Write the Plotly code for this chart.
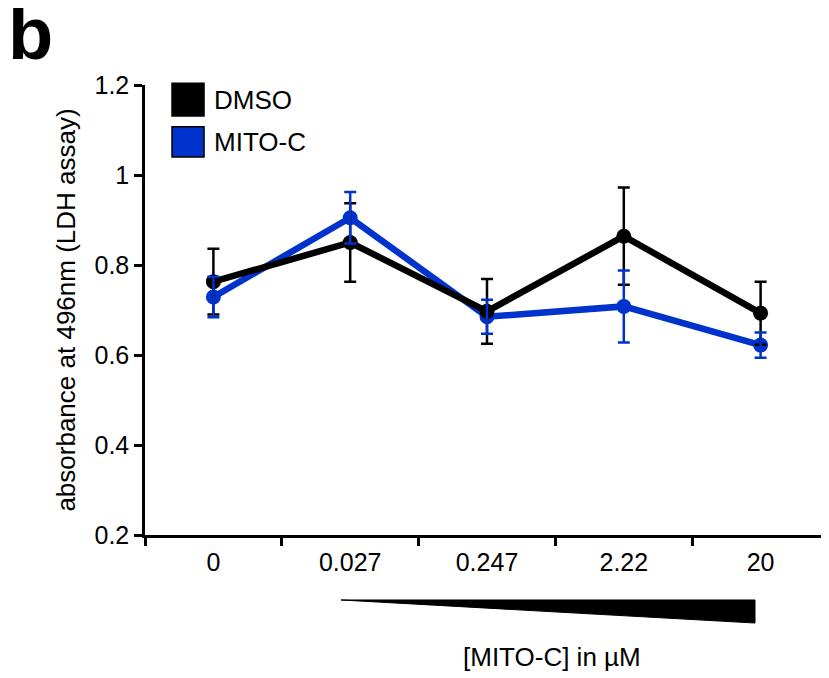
import plotly.graph_objects as go

categories = ["0", "0.027", "0.247", "2.22", "20"]
dmso_mean = [0.763, 0.850, 0.697, 0.864, 0.693]
dmso_err = [0.073, 0.087, 0.072, 0.108, 0.070]
mito_mean = [0.729, 0.905, 0.685, 0.708, 0.622]
mito_err = [0.045, 0.057, 0.038, 0.080, 0.028]
y_ticks = [0.2, 0.4, 0.6, 0.8, 1.0, 1.2]
y_tick_text = ["0.2", "0.4", "0.6", "0.8", "1", "1.2"]

BLUE = "#0033CC"
FONT = "Liberation Sans, Arial, sans-serif"

fig = go.Figure()
fig.add_trace(go.Scatter(
    x=categories, y=mito_mean, mode="lines+markers", name="MITO-C",
    line=dict(color=BLUE, width=6.5), marker=dict(color=BLUE, size=15),
    showlegend=False))
fig.add_trace(go.Scatter(
    x=categories, y=dmso_mean, mode="lines+markers", name="DMSO",
    line=dict(color="black", width=6.5), marker=dict(color="black", size=15),
    error_y=dict(type="data", array=dmso_err, color="black", thickness=2.5, width=6),
    showlegend=False))
# MITO-C error bars drawn on top
fig.add_trace(go.Scatter(
    x=categories, y=mito_mean, mode="markers", name="MITO-C error",
    marker=dict(color=BLUE, size=1, opacity=0),
    error_y=dict(type="data", array=mito_err, color=BLUE, thickness=2.5, width=6),
    showlegend=False, hoverinfo="skip"))

shapes = [
    dict(type="rect", xref="paper", yref="paper", x0=0.0395, x1=0.0863, y0=0.931, y1=1.004,
         fillcolor="black", line=dict(color="black", width=1.5)),
    dict(type="rect", xref="paper", yref="paper", x0=0.0395, x1=0.0863, y0=0.840, y1=0.907,
         fillcolor=BLUE, line=dict(color="black", width=1.5)),
    dict(type="path", xref="paper", yref="paper",
         path="M 0.2865 -0.1444 L 0.8918 -0.1444 L 0.8918 -0.1956 Z",
         fillcolor="black", line=dict(color="black", width=1)),
]

annotations = [
    dict(text="DMSO", xref="paper", yref="paper", x=0.098, y=0.967, xanchor="left",
         yanchor="middle", showarrow=False, font=dict(family=FONT, size=26, color="black")),
    dict(text="MITO-C", xref="paper", yref="paper", x=0.098, y=0.873, xanchor="left",
         yanchor="middle", showarrow=False, font=dict(family=FONT, size=26, color="black")),
    dict(text="<b>b</b>", xref="paper", yref="paper", x=-0.203, y=1.115, xanchor="left",
         yanchor="middle", showarrow=False, font=dict(family=FONT, size=74, color="black")),
    dict(text="[MITO-C] in µM", xref="paper", yref="paper", x=0.595, y=-0.271,
         xanchor="center", yanchor="middle", showarrow=False,
         font=dict(family=FONT, size=26, color="black")),
]

fig.update_layout(
    width=821, height=670,
    margin=dict(l=137, r=0, t=77, b=143),
    paper_bgcolor="white", plot_bgcolor="white",
    font=dict(family=FONT, size=25, color="black"),
    shapes=shapes, annotations=annotations,
    xaxis=dict(type="category", range=[-0.5, 4.5], tickson="boundaries",
               ticks="outside", ticklen=8, tickwidth=2.5, tickcolor="black",
               showline=True, linecolor="black", linewidth=2.5, showgrid=False,
               zeroline=False, tickfont=dict(size=25), ticklabelstandoff=3),
    yaxis=dict(range=[0.2, 1.2], tickvals=y_ticks, ticktext=y_tick_text,
               ticks="outside", ticklen=8, tickwidth=2.5, tickcolor="black",
               showline=True, linecolor="black", linewidth=2.5, showgrid=False,
               zeroline=False, tickfont=dict(size=25),
               title=dict(text="absorbance at 496nm (LDH assay)", font=dict(size=26), standoff=12)),
)

fig.write_html("out.html")
